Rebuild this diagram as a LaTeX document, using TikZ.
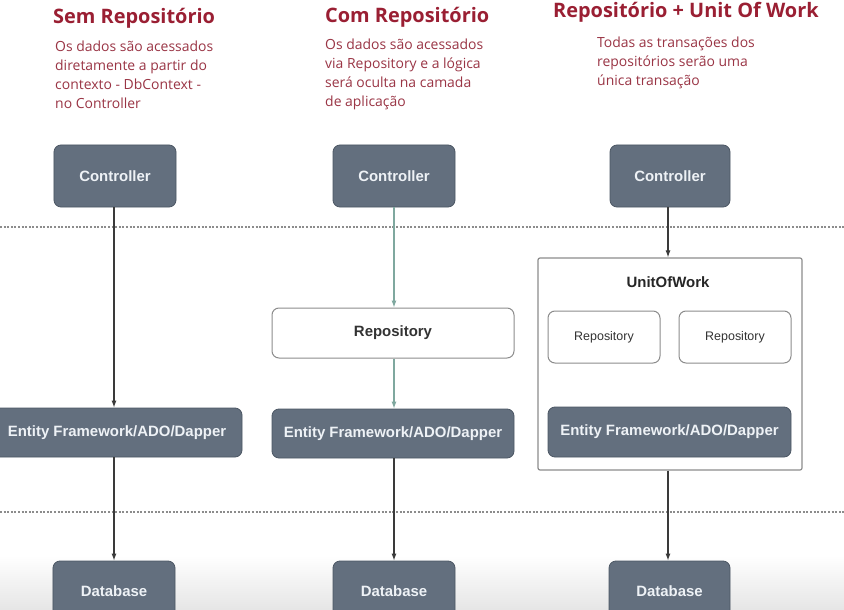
\documentclass[tikz,border=0pt]{standalone}
\usepackage{fontspec}
\setmainfont{Open Sans}
\newfontfamily\boxfont{Liberation Sans}
\usetikzlibrary{arrows.meta,positioning}
\definecolor{titlered}{HTML}{9A1F33}
\definecolor{descred}{HTML}{9A3545}
\definecolor{boxfill}{HTML}{636F7E}
\definecolor{boxline}{HTML}{4C5764}
\definecolor{boxtext}{HTML}{EEF2F6}
\definecolor{lightline}{HTML}{8C8C8C}
\definecolor{tealarrow}{HTML}{7FA89F}
\definecolor{arrowdark}{HTML}{3A3A3A}
\tikzset{
  darkbox/.style={draw=boxline, line width=0.8bp, fill=boxfill, rounded corners=7bp,
    text=boxtext, font=\boxfont\bfseries\fontsize{15}{17}\selectfont, inner sep=0pt},
  whitebox/.style={draw=lightline, line width=1bp, fill=white, rounded corners=7bp,
    text=black!80, inner sep=0pt},
  titletext/.style={text=titlered, font=\bfseries\fontsize{20}{22}\selectfont, anchor=west, inner sep=0pt},
  desctext/.style={text=descred, font=\fontsize{14}{19}\selectfont, anchor=north west, align=left, inner sep=0pt},
  arr/.style={draw=arrowdark, line width=1.1bp, -{Latex[length=7bp,width=5bp]}},
  tarr/.style={draw=tealarrow, line width=1.1bp, -{Latex[length=7bp,width=5bp]}},
  sepline/.style={draw=lightline, line width=1.3bp, dash pattern=on 2bp off 1.6bp}
}
\begin{document}
\begin{tikzpicture}[x=1bp,y=-1bp]
\useasboundingbox (0,0) rectangle (844,610);
\fill[white] (0,0) rectangle (844,610);
\shade[top color=white, bottom color=black!10] (0,555) rectangle (844,610);

% titles
\node[titletext] (t1) at (53,18) {Sem Repositório};
\node[titletext] (t2) at (325,17) {Com Repositório};
\node[titletext] (t3) at (553,12) {Repositório + Unit Of Work};

% descriptions
\node[desctext] (d1) at (55,41) {Os dados são acessados\\diretamente a partir do\\contexto - DbContext -\\no Controller};
\node[desctext] (d2) at (325,39) {Os dados são acessados\\via Repository e a lógica\\será oculta na camada\\de aplicação};
\node[desctext] (d3) at (597,37) {Todas as transações dos\\repositórios serão uma\\única transação};

% separators
\coordinate (s1a) at (0,227); \coordinate (s1b) at (844,227);
\coordinate (s2a) at (0,512); \coordinate (s2b) at (844,512);
\draw[sepline] (s1a) -- (s1b);
\draw[sepline] (s2a) -- (s2b);

% column 1
\node[darkbox, minimum width=122bp, minimum height=62bp] (c1) at (115,176) {Controller};
\node[darkbox, minimum width=250bp, minimum height=49bp] (e1) at (117,432.5) {Entity Framework/ADO/Dapper};
\node[darkbox, minimum width=122bp, minimum height=60bp] (db1) at (114,591) {Database};

% column 2
\node[darkbox, minimum width=122bp, minimum height=62bp] (c2) at (394,176) {Controller};
\node[whitebox, minimum width=242bp, minimum height=50bp, font=\boxfont\bfseries\fontsize{15}{17}\selectfont] (r2) at (393,333) {Repository};
\node[darkbox, minimum width=242bp, minimum height=49bp] (e2) at (393,433.5) {Entity Framework/ADO/Dapper};
\node[darkbox, minimum width=122bp, minimum height=60bp] (db2) at (394,591) {Database};

% column 3
\node[darkbox, minimum width=120bp, minimum height=62bp] (c3) at (670,176) {Controller};
\node[draw=lightline, line width=1.2bp, fill=white, rounded corners=2bp, minimum width=264bp, minimum height=212bp, inner sep=0pt] (u) at (670,364) {};
\node[text=black!85, font=\boxfont\bfseries\fontsize{15}{17}\selectfont, inner sep=0pt] (ul) at (668,282) {UnitOfWork};
\node[whitebox, minimum width=112bp, minimum height=52bp, font=\boxfont\fontsize{12.5}{15}\selectfont] (ra) at (604,337) {Repository};
\node[whitebox, minimum width=112bp, minimum height=52bp, font=\boxfont\fontsize{12.5}{15}\selectfont] (rb) at (735,337) {Repository};
\node[darkbox, minimum width=243bp, minimum height=50bp] (e3) at (669.5,432) {Entity Framework/ADO/Dapper};
\node[darkbox, minimum width=121bp, minimum height=60bp] (db3) at (669.5,591) {Database};

% connectors
\draw[arr] (c1.south -| 114,0) -- (e1.north -| 114,0);
\draw[arr] (e1.south -| 114,0) -- (db1.north -| 114,0);
\draw[tarr] (c2.south -| 394,0) -- (r2.north -| 394,0);
\draw[tarr] (r2.south -| 394,0) -- (e2.north -| 394,0);
\draw[arr] (e2.south -| 394,0) -- (db2.north -| 394,0);
\draw[arr] (c3.south -| 668,0) -- (u.north -| 668,0);
\draw[arr] (u.south -| 668,0) -- (db3.north -| 668,0);
\end{tikzpicture}
\end{document}
